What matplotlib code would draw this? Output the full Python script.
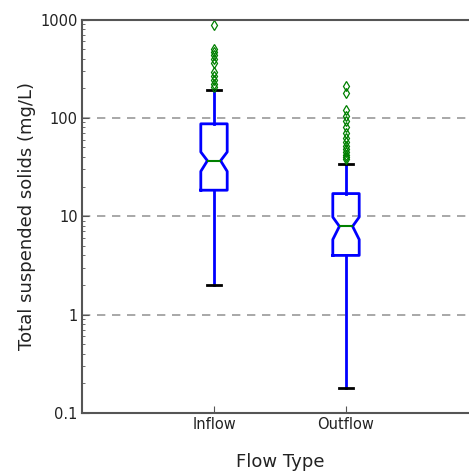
import numpy as np
import matplotlib
matplotlib.use('Agg')
from matplotlib import pyplot as plt
from matplotlib.ticker import FixedLocator, FuncFormatter, LogLocator

# box statistics (mg/L)
labels = ['Inflow', 'Outflow']
whislo = [2.0, 0.178]
q1 = [18.4, 4.0]
med = [36.7, 7.9]
q3 = [87.0, 17.0]
whishi = [190.0, 34.3]
cilo = [28.6, 5.8]
cihi = [45.0, 9.8]
fliers_in = [880, 505, 470, 434, 395, 360, 292, 264, 242, 220, 204]
fliers_out = [210, 180, 120, 105, 92, 80, 70, 62, 57, 52, 48, 45, 42, 40, 38]

stats = []
for i in range(2):
    stats.append(dict(label=labels[i], whislo=whislo[i], q1=q1[i], med=med[i],
                      q3=q3[i], whishi=whishi[i], cilo=cilo[i], cihi=cihi[i],
                      fliers=[fliers_in, fliers_out][i]))

txt = '#222222'
fig = plt.figure(figsize=(4.69, 4.74), dpi=100)
ax = fig.add_axes([82/469., 61/474., 396/469., 393.5/474.])

ax.bxp(stats, positions=[1, 2], widths=0.2, shownotches=True,
       boxprops=dict(color='b', lw=2),
       whiskerprops=dict(color='b', lw=2, linestyle='-'),
       capprops=dict(color='k', lw=2),
       medianprops=dict(color='g', lw=1.5),
       flierprops=dict(marker='d', markerfacecolor='none', markeredgecolor='g',
                       markersize=5.5, markeredgewidth=0.9, linestyle='none'))

ax.set_yscale('log')
ax.set_ylim(0.1, 1000)
ax.set_xlim(0, 3)
ax.yaxis.set_major_locator(FixedLocator([0.1, 1, 10, 100, 1000]))
ax.yaxis.set_major_formatter(FuncFormatter(lambda v, p: '%g' % v))
ax.yaxis.set_minor_locator(LogLocator(base=10, subs=np.arange(2, 10)))
ax.yaxis.grid(True, which='major', color='#999999', linestyle=(0, (5, 4)), lw=1.2)
ax.set_axisbelow(True)

ax.tick_params(axis='both', which='both', direction='in', colors='#555555',
               labelcolor=txt, labelsize=10.5)
ax.tick_params(axis='y', which='major', length=5, pad=3)
ax.tick_params(axis='y', which='minor', length=2.5)
ax.tick_params(axis='x', length=5, pad=3, top=False)
ax.tick_params(axis='y', right=False)
for s in ax.spines.values():
    s.set_color('#555555')
    s.set_linewidth(1.5)

ax.set_xlabel('Flow Type', fontsize=13, color=txt, labelpad=15)
ax.set_ylabel('Total suspended solids (mg/L)', fontsize=13, color=txt, labelpad=3)

fig.savefig('out.png', dpi=100)
